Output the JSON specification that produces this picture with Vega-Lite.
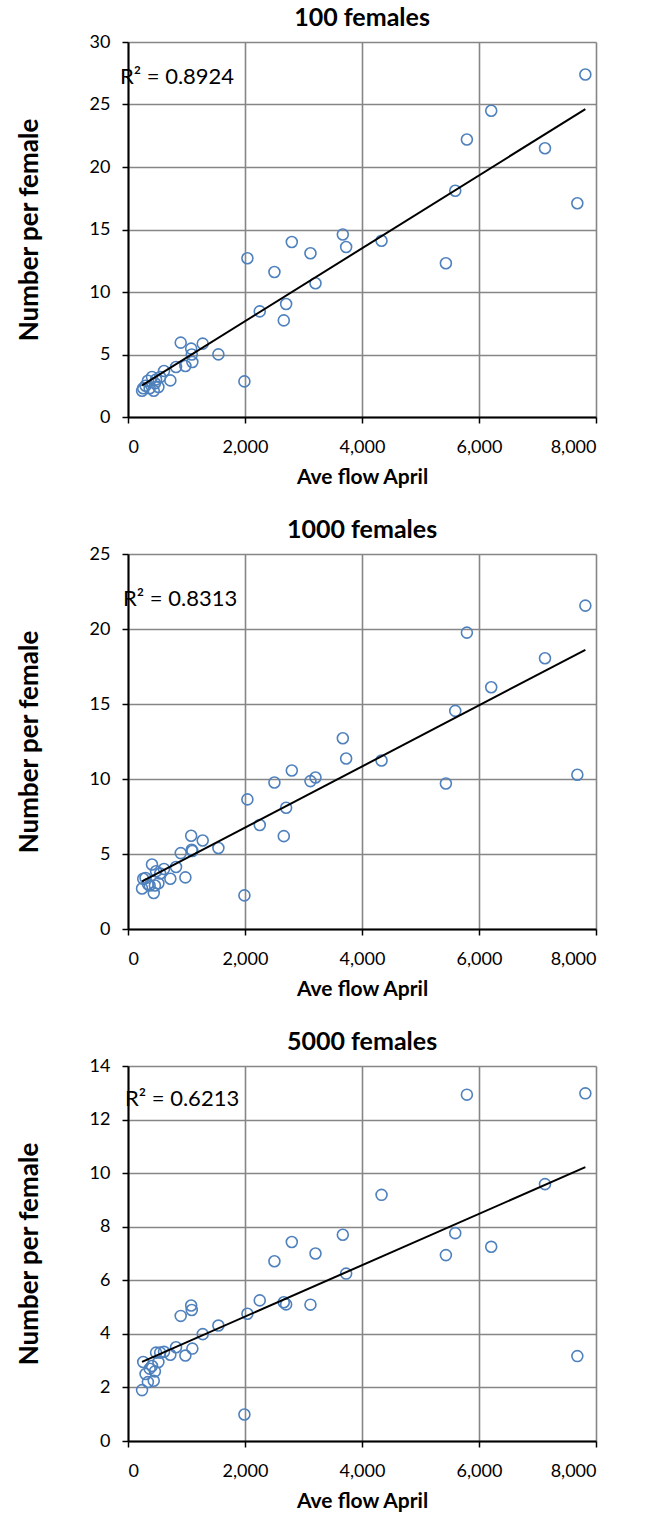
{
 "$schema": "https://vega.github.io/schema/vega-lite/v6.json",
 "padding": {"left": 16, "top": 6, "right": 5, "bottom": 5},
 "spacing": 31,
 "datasets": {
  "pts": [
   {"flow": 240, "f100": 2.1, "f1000": 2.7, "f5000": 1.9},
   {"flow": 260, "f100": 2.3, "f1000": 3.35, "f5000": 2.95},
   {"flow": 300, "f100": 2.5, "f1000": 3.4, "f5000": 2.5},
   {"flow": 340, "f100": 2.9, "f1000": 3.0, "f5000": 2.2},
   {"flow": 370, "f100": 2.3, "f1000": 2.9, "f5000": 2.7},
   {"flow": 410, "f100": 3.2, "f1000": 4.3, "f5000": 2.8},
   {"flow": 440, "f100": 2.1, "f1000": 2.4, "f5000": 2.25},
   {"flow": 460, "f100": 2.7, "f1000": 2.9, "f5000": 2.6},
   {"flow": 480, "f100": 3.0, "f1000": 3.85, "f5000": 3.3},
   {"flow": 520, "f100": 2.4, "f1000": 3.05, "f5000": 2.95},
   {"flow": 550, "f100": 3.2, "f1000": 3.7, "f5000": 3.3},
   {"flow": 616, "f100": 3.68, "f1000": 4.0, "f5000": 3.33},
   {"flow": 724, "f100": 2.93, "f1000": 3.35, "f5000": 3.22},
   {"flow": 821, "f100": 4.0, "f1000": 4.13, "f5000": 3.5},
   {"flow": 901, "f100": 5.95, "f1000": 5.06, "f5000": 4.67},
   {"flow": 981, "f100": 4.08, "f1000": 3.44, "f5000": 3.19},
   {"flow": 1080, "f100": 5.47, "f1000": 6.22, "f5000": 5.06},
   {"flow": 1090, "f100": 5.0, "f1000": 5.28, "f5000": 4.89},
   {"flow": 1100, "f100": 4.4, "f1000": 5.2, "f5000": 3.45},
   {"flow": 1277, "f100": 5.87, "f1000": 5.9, "f5000": 3.99},
   {"flow": 1545, "f100": 5.01, "f1000": 5.4, "f5000": 4.31},
   {"flow": 1990, "f100": 2.85, "f1000": 2.24, "f5000": 0.99},
   {"flow": 2041, "f100": 12.7, "f1000": 8.64, "f5000": 4.75},
   {"flow": 2252, "f100": 8.45, "f1000": 6.93, "f5000": 5.25},
   {"flow": 2503, "f100": 11.6, "f1000": 9.77, "f5000": 6.71},
   {"flow": 2663, "f100": 7.73, "f1000": 6.19, "f5000": 5.18},
   {"flow": 2703, "f100": 9.04, "f1000": 8.08, "f5000": 5.1},
   {"flow": 2800, "f100": 14.0, "f1000": 10.57, "f5000": 7.43},
   {"flow": 3119, "f100": 13.1, "f1000": 9.86, "f5000": 5.09},
   {"flow": 3205, "f100": 10.7, "f1000": 10.1, "f5000": 7.0},
   {"flow": 3672, "f100": 14.6, "f1000": 12.72, "f5000": 7.7},
   {"flow": 3729, "f100": 13.6, "f1000": 11.37, "f5000": 6.25},
   {"flow": 4334, "f100": 14.1, "f1000": 11.23, "f5000": 9.19},
   {"flow": 5434, "f100": 12.3, "f1000": 9.7, "f5000": 6.94},
   {"flow": 5594, "f100": 18.1, "f1000": 14.54, "f5000": 7.76},
   {"flow": 5793, "f100": 22.2, "f1000": 19.76, "f5000": 12.93},
   {"flow": 6209, "f100": 24.5, "f1000": 16.12, "f5000": 7.25},
   {"flow": 7128, "f100": 21.5, "f1000": 18.05, "f5000": 9.59},
   {"flow": 7681, "f100": 17.1, "f1000": 10.28, "f5000": 3.17},
   {"flow": 7818, "f100": 27.4, "f1000": 21.56, "f5000": 12.98}
  ]
 },
 "config": {
  "font": "Lato",
  "view": {"stroke": null},
  "axis": {
   "labelFont": "Lato", "labelFontSize": 18, "labelColor": "#000",
   "titleFont": "Lato", "titleFontWeight": "bold", "titleColor": "#000",
   "gridColor": "#868686", "gridWidth": 1.6, "gridOpacity": 1,
   "domainColor": "#000", "domainWidth": 2,
   "tickColor": "#000", "tickWidth": 1.5, "tickSize": 6
  },
  "axisX": {"format": ",d", "titlePadding": 10, "labelPadding": 15, "titleFontSize": 21},
  "axisY": {"titlePadding": 47, "labelPadding": 12, "titleFontSize": 26},
  "title": {"font": "Lato", "fontSize": 25, "fontWeight": "bold", "color": "#000", "offset": 2}
 },
 "vconcat": [
  {
   "title": "100 females",
   "width": 468, "height": 375,
   "layer": [
    {
     "data": {"name": "pts"},
     "mark": {"type": "point", "shape": "circle", "filled": false, "size": 120, "strokeWidth": 1.6, "color": "#4F81BD", "opacity": 1},
     "encoding": {
      "x": {"field": "flow", "type": "quantitative", "scale": {"domain": [0, 8000], "nice": false}, "axis": {"values": [0, 2000, 4000, 6000, 8000]}, "title": "Ave flow April"},
      "y": {"field": "f100", "type": "quantitative", "scale": {"domain": [0, 30], "nice": false}, "axis": {"values": [0, 5, 10, 15, 20, 25, 30]}, "title": "Number per female"}
     }
    },
    {
     "data": {"name": "pts"},
     "transform": [{"regression": "f100", "on": "flow"}],
     "mark": {"type": "line", "color": "#000", "strokeWidth": 2},
     "encoding": {
      "x": {"field": "flow", "type": "quantitative"},
      "y": {"field": "f100", "type": "quantitative"}
     }
    },
    {
     "data": {"values": [{"label": "R² = 0.8924"}]},
     "mark": {"type": "text", "align": "left", "baseline": "middle", "fontSize": 22, "font": "Lato", "color": "#000"},
     "encoding": {
      "x": {"datum": -137, "type": "quantitative"},
      "y": {"datum": 27.2, "type": "quantitative"},
      "text": {"field": "label"}
     }
    }
   ]
  },
  {
   "title": "1000 females",
   "width": 468, "height": 375,
   "layer": [
    {
     "data": {"name": "pts"},
     "mark": {"type": "point", "shape": "circle", "filled": false, "size": 120, "strokeWidth": 1.6, "color": "#4F81BD", "opacity": 1},
     "encoding": {
      "x": {"field": "flow", "type": "quantitative", "scale": {"domain": [0, 8000], "nice": false}, "axis": {"values": [0, 2000, 4000, 6000, 8000]}, "title": "Ave flow April"},
      "y": {"field": "f1000", "type": "quantitative", "scale": {"domain": [0, 25], "nice": false}, "axis": {"values": [0, 5, 10, 15, 20, 25]}, "title": "Number per female"}
     }
    },
    {
     "data": {"name": "pts"},
     "transform": [{"regression": "f1000", "on": "flow"}],
     "mark": {"type": "line", "color": "#000", "strokeWidth": 2},
     "encoding": {
      "x": {"field": "flow", "type": "quantitative"},
      "y": {"field": "f1000", "type": "quantitative"}
     }
    },
    {
     "data": {"values": [{"label": "R² = 0.8313"}]},
     "mark": {"type": "text", "align": "left", "baseline": "middle", "fontSize": 22, "font": "Lato", "color": "#000"},
     "encoding": {
      "x": {"datum": -85, "type": "quantitative"},
      "y": {"datum": 22, "type": "quantitative"},
      "text": {"field": "label"}
     }
    }
   ]
  },
  {
   "title": "5000 females",
   "width": 468, "height": 375,
   "layer": [
    {
     "data": {"name": "pts"},
     "mark": {"type": "point", "shape": "circle", "filled": false, "size": 120, "strokeWidth": 1.6, "color": "#4F81BD", "opacity": 1},
     "encoding": {
      "x": {"field": "flow", "type": "quantitative", "scale": {"domain": [0, 8000], "nice": false}, "axis": {"values": [0, 2000, 4000, 6000, 8000]}, "title": "Ave flow April"},
      "y": {"field": "f5000", "type": "quantitative", "scale": {"domain": [0, 14], "nice": false}, "axis": {"values": [0, 2, 4, 6, 8, 10, 12, 14]}, "title": "Number per female"}
     }
    },
    {
     "data": {"name": "pts"},
     "transform": [{"regression": "f5000", "on": "flow"}],
     "mark": {"type": "line", "color": "#000", "strokeWidth": 2},
     "encoding": {
      "x": {"field": "flow", "type": "quantitative"},
      "y": {"field": "f5000", "type": "quantitative"}
     }
    },
    {
     "data": {"values": [{"label": "R² = 0.6213"}]},
     "mark": {"type": "text", "align": "left", "baseline": "middle", "fontSize": 22, "font": "Lato", "color": "#000"},
     "encoding": {
      "x": {"datum": -51, "type": "quantitative"},
      "y": {"datum": 12.77, "type": "quantitative"},
      "text": {"field": "label"}
     }
    }
   ]
  }
 ]
}
